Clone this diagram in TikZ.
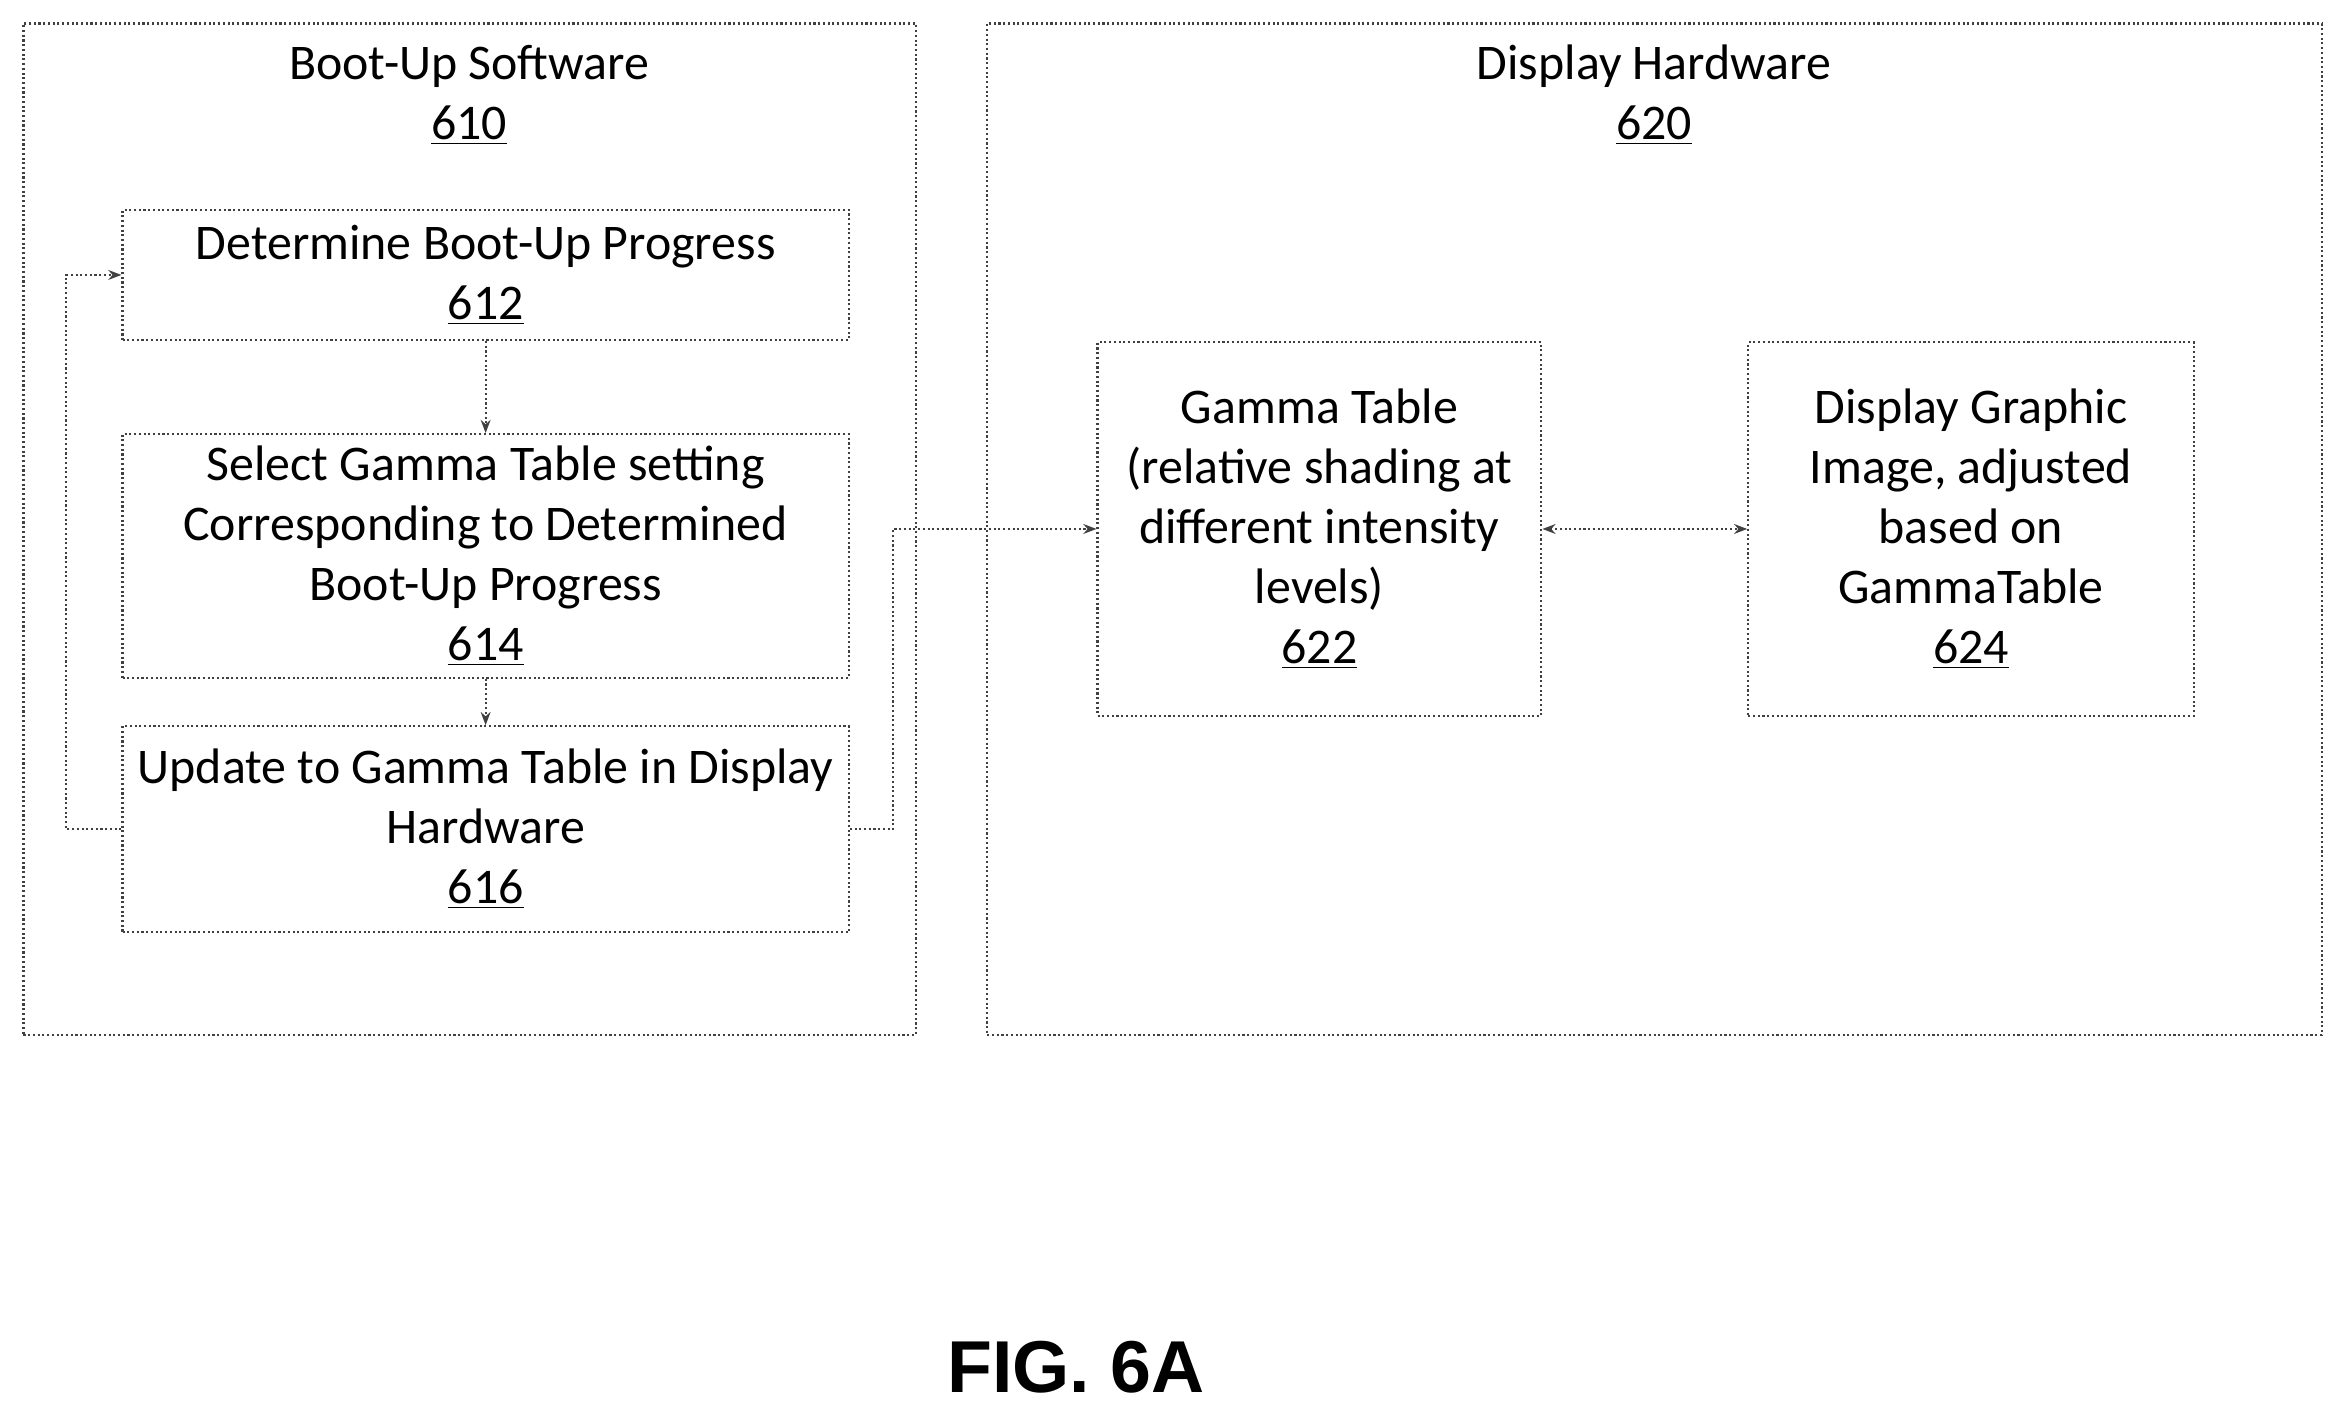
\documentclass[tikz,border=0pt]{standalone}
\usepackage{fontspec}
\setmainfont{Carlito}
\newfontfamily\figfont{Liberation Sans}
\usetikzlibrary{positioning,arrows.meta}
\begin{document}
\begin{tikzpicture}[x=0.02cm,y=-0.02cm,
    box/.style={draw=black!75, densely dotted, thick, rectangle, align=center, inner sep=2,
        font=\fontsize{19}{22.8}\selectfont},
    link/.style={draw=black!75, densely dotted, thick, -{Stealth[length=5pt]}}]
        \useasboundingbox (0,0) rectangle (1568,947);
        % outer containers
        \node[box, minimum width=597*0.02cm, minimum height=677*0.02cm, anchor=north west] (software) at (15,15) {};
        \node[box, minimum width=893*0.02cm, minimum height=677*0.02cm, anchor=north west] (hardware) at (660,15) {};
        \node[font=\fontsize{19}{22.8}\selectfont, align=center, anchor=north] (softtitle) at (314,24) {Boot-Up Software\\\underline{610}};
        \node[font=\fontsize{19}{22.8}\selectfont, align=center, anchor=north] (hardtitle) at (1107,24) {Display Hardware\\\underline{620}};
        % steps
        \node[box, minimum width=486*0.02cm, minimum height=87*0.02cm] (progress) at (325,184) {Determine Boot-Up Progress\\\underline{612}};
        \node[box, minimum width=486*0.02cm, minimum height=163*0.02cm] (select) at (325,372) {Select Gamma Table setting\\Corresponding to Determined\\Boot-Up Progress\\\underline{614}};
        \node[box, minimum width=486*0.02cm, minimum height=138*0.02cm] (update) at (325,555) {Update to Gamma Table in Display\\Hardware\\\underline{616}};
        \node[box, minimum width=297*0.02cm, minimum height=250*0.02cm] (gamma) at (883,354) {Gamma Table\\(relative shading at\\different intensity\\levels)\\\underline{622}};
        \node[box, minimum width=298*0.02cm, minimum height=250*0.02cm] (graphic) at (1319,354) {Display Graphic\\Image, adjusted\\based on\\GammaTable\\\underline{624}};
        \node[font=\figfont\bfseries\fontsize{28}{30}\selectfont] (fig) at (720,915) {FIG. 6A};
        % connectors
        \path[link] (progress) -- (select);
        \path[link] (select) -- (update);
        \path[link] (update.west) -- ++(-37,0) |- (progress.west);
        \path[link] (update.east) -- ++(29,0) |- (gamma.west);
        \path[link, {Stealth[length=5pt]}-{Stealth[length=5pt]}] (gamma) -- (graphic);
\end{tikzpicture}
\end{document}
